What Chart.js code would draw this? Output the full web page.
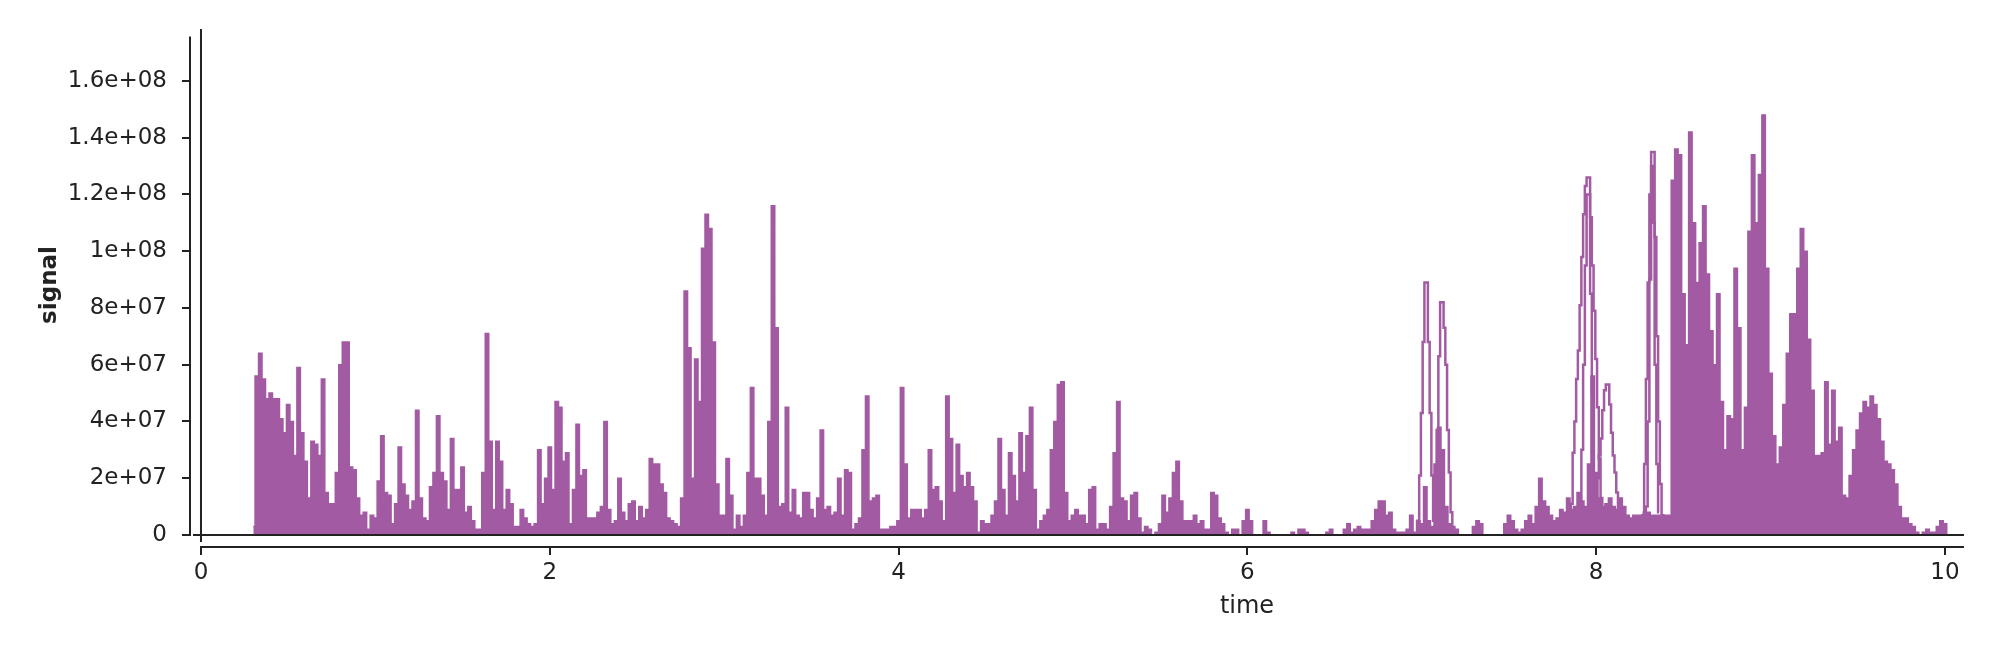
<!DOCTYPE html>
<html>
<head>
<meta charset="utf-8">
<script src="https://cdn.jsdelivr.net/npm/chart.js@4.4.1/dist/chart.umd.min.js"></script>
<style>
  html, body { margin: 0; padding: 0; background: #fff; }
  #wrap { width: 2000px; height: 651px; }
</style>
</head>
<body>
<div id="wrap"><canvas id="chart"></canvas></div>
<script>
// signal values are in units of 1e7, sampled every 0.02 s from 0.30 s
const sampleStart = 0.30;
const sampleStep = 0.02;
const baseSignal = [
  0.3, 5.6, 6.4, 5.5, 4.8, 5.0, 4.8, 4.8, 4.1, 3.6,
  4.6, 4.0, 2.8, 5.9, 3.6, 2.6, 1.3, 3.3, 3.2, 2.8,
  5.5, 1.5, 1.1, 1.1, 2.2, 6.0, 6.8, 6.8, 2.4, 2.3,
  1.3, 0.7, 0.8, 0.2, 0.7, 0.6, 1.9, 3.5, 1.5, 1.4,
  0.4, 1.1, 3.1, 1.8, 1.4, 0.9, 1.2, 4.4, 1.3, 0.6,
  0.5, 1.7, 2.2, 4.2, 2.2, 1.9, 0.9, 3.4, 1.6, 1.6,
  2.4, 0.8, 1.0, 0.5, 0.2, 0.2, 2.2, 7.1, 3.3, 0.9,
  3.3, 2.6, 0.9, 1.6, 1.1, 0.3, 0.3, 0.9, 0.6, 0.4,
  0.3, 0.4, 3.0, 1.1, 2.0, 3.1, 1.6, 4.7, 4.5, 2.6,
  2.9, 0.4, 1.6, 3.9, 2.1, 2.3, 0.6, 0.6, 0.6, 0.8,
  1.0, 4.0, 0.9, 0.4, 0.5, 2.0, 0.8, 0.5, 1.1, 1.2,
  0.5, 1.0, 0.6, 0.9, 2.7, 2.5, 2.5, 1.8, 1.5, 0.6,
  0.5, 0.4, 0.3, 1.3, 8.6, 6.6, 2.0, 6.2, 4.7, 10.1,
  11.3, 10.8, 6.8, 1.8, 0.7, 0.7, 2.7, 1.4, 0.2, 0.7,
  0.3, 0.7, 2.2, 5.2, 2.0, 2.0, 1.4, 0.7, 4.0, 11.6,
  7.3, 1.0, 1.1, 4.5, 0.8, 1.6, 0.7, 0.6, 1.5, 1.5,
  0.9, 0.6, 1.3, 3.7, 0.9, 1.0, 0.7, 0.8, 2.0, 0.7,
  2.3, 2.2, 0.2, 0.4, 0.6, 3.0, 4.9, 1.2, 1.3, 1.4,
  0.2, 0.2, 0.2, 0.3, 0.3, 0.5, 5.2, 2.5, 0.6, 0.9,
  0.9, 0.9, 0.6, 0.9, 3.0, 1.6, 1.7, 1.2, 0.5, 4.9,
  3.4, 1.5, 3.2, 2.1, 1.7, 2.2, 1.7, 1.2, 0.1, 0.5,
  0.4, 0.4, 0.7, 1.2, 3.4, 1.6, 0.7, 2.9, 2.1, 1.2,
  3.6, 2.2, 3.5, 4.5, 1.6, 0.2, 0.5, 0.7, 0.9, 3.0,
  4.0, 5.3, 5.4, 1.5, 0.5, 0.7, 0.9, 0.7, 0.7, 0.4,
  1.6, 1.7, 0.2, 0.4, 0.4, 0.2, 1.0, 2.9, 4.7, 1.3,
  1.2, 0.5, 1.4, 1.5, 0.6, 0.1, 0.3, 0.2, 0.0, 0.1,
  0.4, 1.4, 0.8, 1.3, 2.2, 2.6, 1.2, 0.5, 0.5, 0.5,
  0.7, 0.4, 0.5, 0.2, 0.2, 1.5, 1.4, 0.6, 0.4, 0.1,
  0.0, 0.2, 0.2, 0.0, 0.5, 0.9, 0.5, 0.0, 0.0, 0.0,
  0.5, 0.1, 0.0, 0.0, 0.0, 0.0, 0.0, 0.0, 0.1, 0.0,
  0.2, 0.2, 0.1, 0.0, 0.0, 0.0, 0.0, 0.0, 0.1, 0.2,
  0.0, 0.0, 0.0, 0.2, 0.4, 0.1, 0.2, 0.3, 0.2, 0.2,
  0.2, 0.5, 0.9, 1.2, 1.2, 0.7, 0.8, 0.2, 0.1, 0.1,
  0.1, 0.2, 0.7, 0.1, 0.5, 0.4, 1.7, 0.5, 0.3, 2.5,
  3.8, 3.0, 1.0, 0.4, 0.3, 0.2, 0.0, 0.0, 0.0, 0.0,
  0.3, 0.5, 0.4, 0.0, 0.0, 0.0, 0.0, 0.0, 0.0, 0.4,
  0.7, 0.5, 0.2, 0.1, 0.2, 0.5, 0.7, 0.4, 1.0, 2.0,
  1.2, 1.0, 0.7, 0.5, 0.6, 0.9, 0.8, 1.3, 0.9, 1.0,
  1.5, 1.2, 1.0, 2.5, 5.6, 2.2, 1.3, 1.0, 1.1, 1.3,
  1.0, 0.9, 1.3, 1.0, 0.7, 0.6, 0.7, 0.7, 0.7, 0.8,
  0.8, 0.7, 0.7, 0.7, 0.7, 0.7, 0.7, 12.5, 13.6, 13.4,
  8.5, 6.7, 14.2, 11.0, 8.9, 10.3, 11.6, 9.2, 7.2, 6.0,
  8.5, 4.7, 3.0, 4.2, 4.1, 9.4, 7.3, 3.0, 4.5, 10.7,
  13.4, 11.0, 12.7, 14.8, 9.4, 5.7, 3.5, 2.5, 3.1, 4.6,
  6.4, 7.8, 7.8, 9.4, 10.8, 10.0, 6.9, 5.1, 2.8, 2.8,
  2.9, 5.4, 3.2, 5.1, 3.3, 3.8, 1.4, 1.3, 2.1, 3.0,
  3.7, 4.3, 4.7, 4.5, 4.9, 4.6, 4.1, 3.3, 2.6, 2.5,
  2.3, 1.8, 1.0, 0.6, 0.6, 0.4, 0.3, 0.1, 0.0, 0.1,
  0.2, 0.1, 0.1, 0.3, 0.5, 0.4, 0.0
];

// narrow peaks that are drawn only as outlines (null = break)
const outlineATimes = [
  6.97, 6.98, 6.99, 7.00, 7.01, 7.02, 7.03, 7.04, 7.05, 7.06, 7.07,
  7.08, 7.09, 7.10, 7.11, 7.12, 7.13, 7.14, 7.15, 7.16, 7.17, 7.18, null,
  7.84, 7.85, 7.86, 7.87, 7.88, 7.89, 7.90, 7.91, 7.92, 7.93, 7.94, 7.95,
  7.96, 7.97, 7.98, 7.99, 8.00, 8.01, 8.02, 8.03, 8.04, 8.05, null,
  8.26, 8.27, 8.28, 8.29, 8.30, 8.31, 8.32, 8.33, 8.34, 8.35, 8.36, 8.37, 8.38, 8.39
];
const outlineAValues = [
  0.3, 0.5, 2.1, 4.3, 6.8, 8.9, 8.9, 6.8, 4.3, 2.1, 0.5,
  1.0, 3.7, 6.3, 8.2, 8.2, 7.3, 6.0, 3.7, 2.2, 0.8, 0.2, null,
  0.3, 0.5, 1.1, 2.9, 4.0, 5.5, 6.5, 8.1, 9.8, 11.3, 12.3, 12.6,
  12.6, 11.2, 9.5, 7.9, 6.2, 4.5, 2.7, 1.3, 0.6, 0.4, null,
  0.5, 0.7, 2.5, 5.5, 8.9, 12.0, 13.5, 13.5, 10.5, 7.0, 4.0, 1.8, 0.7, 0.5
];
// second, narrower traces inside the outlined peaks
const outlineBTimes = [
  7.90, 7.91, 7.92, 7.93, 7.94, 7.95, 7.96, 7.97, 7.98, 7.99, 8.00, null,
  8.00, 8.01, 8.02, 8.03, 8.04, 8.05, 8.06, 8.07, 8.08, 8.09, 8.10, 8.11, 8.12, 8.13, 8.14, null,
  8.28, 8.29, 8.30, 8.31, 8.32, 8.33, 8.34, 8.35, 8.36
];
const outlineBValues = [
  0.5, 0.8, 3.0, 6.0, 9.5, 12.0, 12.0, 8.5, 5.0, 2.0, 0.8, null,
  1.0, 2.0, 2.8, 3.4, 4.4, 5.1, 5.3, 5.3, 4.6, 3.6, 2.8, 2.2, 1.5, 0.8, 0.5, null,
  0.4, 1.0, 4.0, 9.0, 13.0, 11.0, 6.0, 2.5, 0.8
];

const xTickValues = [0, 2, 4, 6, 8, 10];
const xTickLabels = ['0', '2', '4', '6', '8', '10'];
const yTickValues = [0, 2, 4, 6, 8, 10, 12, 14, 16];
const yTickLabels = ['0', '2e+07', '4e+07', '6e+07', '8e+07', '1e+08', '1.2e+08', '1.4e+08', '1.6e+08'];

const purple = '#a25aa2';
const ink = '#222222';
const fontFamily = '"DejaVu Sans", Verdana, sans-serif';

const sampleTimes = baseSignal.map((_, i) => +(sampleStart + i * sampleStep).toFixed(2));
function toPoints(xs, ys) {
  return xs.map((x, i) => (x === null ? { x: NaN, y: null } : { x: x, y: ys[i] }));
}

const axisLines = {
  id: 'axisLines',
  afterDatasetsDraw(chart) {
    const { ctx, scales: { x, y }, chartArea } = chart;
    ctx.save();
    ctx.strokeStyle = ink;
    ctx.lineWidth = 2;
    ctx.beginPath();
    // y axis line
    ctx.moveTo(chartArea.left, y.getPixelForValue(17.57));
    ctx.lineTo(chartArea.left, y.getPixelForValue(0) + 1);
    // x axis line
    ctx.moveTo(x.getPixelForValue(0) - 1, chartArea.bottom);
    ctx.lineTo(chartArea.right, chartArea.bottom);
    // zero rules
    ctx.moveTo(chartArea.left + 3, y.getPixelForValue(0));
    ctx.lineTo(chartArea.right, y.getPixelForValue(0));
    ctx.moveTo(x.getPixelForValue(0), chartArea.top);
    ctx.lineTo(x.getPixelForValue(0), chartArea.bottom - 5);
    ctx.stroke();
    ctx.restore();
  },
  afterDraw(chart) {
    const { ctx } = chart;
    ctx.save();
    ctx.fillStyle = ink;
    ctx.textAlign = 'center';
    ctx.textBaseline = 'middle';
    ctx.font = '24px ' + fontFamily;
    ctx.fillText('time', 1247, 607);
    ctx.translate(50, 285);
    ctx.rotate(-Math.PI / 2);
    ctx.font = 'bold 23px ' + fontFamily;
    ctx.fillText('signal', 0, 0);
    ctx.restore();
  }
};

new Chart(document.getElementById('chart'), {
  type: 'line',
  data: {
    datasets: [
      {
        data: toPoints(sampleTimes, baseSignal),
        stepped: 'middle',
        fill: 'origin',
        borderColor: purple,
        backgroundColor: purple,
        borderWidth: 1.5,
        pointRadius: 0
      },
      {
        data: toPoints(outlineATimes, outlineAValues),
        stepped: 'middle',
        fill: false,
        borderColor: purple,
        borderWidth: 2.5,
        pointRadius: 0,
        spanGaps: false
      },
      {
        data: toPoints(outlineBTimes, outlineBValues),
        stepped: 'middle',
        fill: false,
        borderColor: purple,
        borderWidth: 2.5,
        pointRadius: 0,
        spanGaps: false
      }
    ]
  },
  options: {
    responsive: true,
    maintainAspectRatio: false,
    animation: false,
    devicePixelRatio: 1,
    layout: { padding: { top: 29, right: 36, left: 0, bottom: 0 } },
    plugins: {
      legend: { display: false },
      tooltip: { enabled: false }
    },
    scales: {
      x: {
        type: 'linear',
        min: -0.063,
        max: 10.109,
        border: { display: false },
        grid: { drawOnChartArea: false, drawTicks: true, tickLength: 8, color: ink, lineWidth: 2 },
        ticks: {
          color: ink,
          font: { family: fontFamily, size: 23 },
          padding: 4,
          maxRotation: 0,
          autoSkip: false,
          callback: (v) => xTickLabels[xTickValues.indexOf(v)]
        },
        afterBuildTicks: (s) => { s.ticks = xTickValues.map(v => ({ value: v })); },
        afterFit: (s) => { s.height = 104; }
      },
      y: {
        type: 'linear',
        min: -0.4229,
        max: 17.83,
        border: { display: false },
        grid: { drawOnChartArea: false, drawTicks: true, tickLength: 8, color: ink, lineWidth: 2 },
        ticks: {
          color: ink,
          font: { family: fontFamily, size: 23 },
          padding: 15,
          autoSkip: false,
          callback: (v) => yTickLabels[yTickValues.indexOf(v)]
        },
        afterBuildTicks: (s) => { s.ticks = yTickValues.map(v => ({ value: v })); },
        afterFit: (s) => { s.width = 190; }
      }
    }
  },
  plugins: [axisLines]
});
</script>
</body>
</html>
